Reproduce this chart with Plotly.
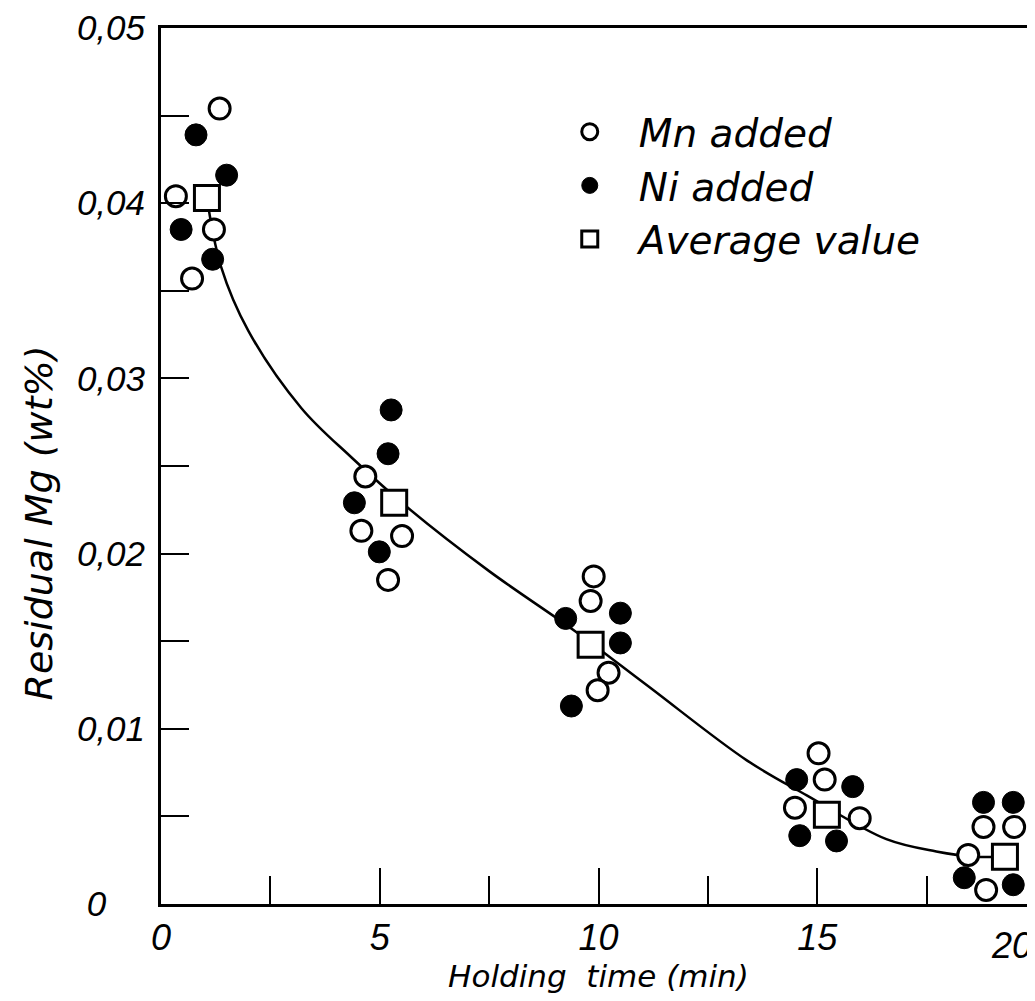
import plotly.graph_objects as go

# ---- data ----
mn_x = [1.34, 0.34, 1.21, 0.71,
        4.67, 4.58, 5.51, 5.19,
        9.89, 9.82, 10.23, 9.98,
        15.03, 15.17, 14.49, 15.97,
        18.80, 19.50, 18.45, 18.86]
mn_y = [0.0454, 0.0404, 0.0385, 0.0357,
        0.0244, 0.0213, 0.0210, 0.0185,
        0.0187, 0.0173, 0.0132, 0.0122,
        0.0086, 0.0071, 0.0055, 0.0049,
        0.0044, 0.0044, 0.0028, 0.0008]

ni_x = [0.80, 1.50, 0.46, 1.18,
        5.26, 5.19, 4.42, 4.99,
        9.25, 10.50, 10.50, 9.38,
        14.53, 15.81, 14.60, 15.44,
        18.80, 19.48, 18.36, 19.48]
ni_y = [0.0439, 0.0416, 0.0385, 0.0368,
        0.0282, 0.0257, 0.0229, 0.0201,
        0.0163, 0.0166, 0.0149, 0.0113,
        0.0071, 0.0067, 0.0039, 0.0036,
        0.0058, 0.0058, 0.0015, 0.0011]

avg_x = [1.05, 5.33, 9.82, 15.22, 19.29]
avg_y = [0.0403, 0.0229, 0.0148, 0.0051, 0.0027]

curve_x = [1.05, 1.37, 2.00, 3.21, 4.35, 5.65, 7.50, 9.45, 11.10,
           13.39, 14.76, 16.58, 17.72, 18.60, 19.29]
curve_y = [0.0403, 0.0364, 0.0327, 0.0283, 0.0255, 0.0226, 0.0190, 0.0156, 0.0125,
           0.0082, 0.0062, 0.0037, 0.0030, 0.0027, 0.0027]

NB = "\u00a0"
x_tickvals = [0, 5, 10, 15, 20]
x_ticktext = ["0", "5", "10", "15", ""]   # the "20" label is right-aligned at the frame below
x_last_text = "20"
y_tickvals = [0, 0.005, 0.01, 0.015, 0.02, 0.025, 0.03, 0.035, 0.04, 0.045, 0.05]
y_ticktext = ["0" + NB * 4, "", "0,01", "", "0,02", "", "0,03", "", "0,04", "", "0,05"]

x_title = "Holding  time (min)"
y_title = "Residual Mg (wt%)"

NUMFONT = "Liberation Sans, Arial, sans-serif"
TXTFONT = "DejaVu Sans, Liberation Sans, sans-serif"

fig = go.Figure()

fig.add_trace(go.Scatter(
    x=curve_x, y=curve_y, mode="lines", showlegend=False,
    line=dict(color="black", width=2.5, shape="spline", smoothing=1.0),
    hoverinfo="skip"))

fig.add_trace(go.Scatter(
    x=mn_x, y=mn_y, mode="markers", name="Mn added", legendgroup="a",
    marker=dict(symbol="circle", size=21, color="white",
                line=dict(color="black", width=3))))

fig.add_trace(go.Scatter(
    x=ni_x, y=ni_y, mode="markers", name="Ni added", legendgroup="b",
    marker=dict(symbol="circle", size=22, color="black",
                line=dict(color="black", width=1))))

fig.add_trace(go.Scatter(
    x=avg_x, y=avg_y, mode="markers", name="Average value", legendgroup="c",
    marker=dict(symbol="square", size=25, color="white",
                line=dict(color="black", width=3))))

fig.update_layout(
    width=1035, height=1001,
    margin=dict(l=153, r=7, t=20, b=105, autoexpand=False),
    paper_bgcolor="white", plot_bgcolor="white",
    font=dict(family=TXTFONT, color="black", size=30),
    legend=dict(x=0.434, y=0.918, xanchor="left", yanchor="top",
                bgcolor="rgba(0,0,0,0)", traceorder="grouped",
                tracegroupgap=0, itemwidth=88,
                font=dict(family=TXTFONT, size=39, style="italic")),
    xaxis=dict(
        range=[0, 20], showgrid=False, zeroline=False, automargin=False,
        showline=True, linecolor="black", linewidth=3, mirror=True,
        ticks="inside", ticklen=36, tickwidth=2, tickcolor="black",
        tickvals=x_tickvals, ticktext=x_ticktext,
        tickfont=dict(family=NUMFONT, size=36, style="italic"),
        ticklabelstandoff=0, ticklabeloverflow="allow",
        minor=dict(tickvals=[2.5, 7.5, 12.5, 17.5], ticks="inside",
                   ticklen=28, tickwidth=2, tickcolor="black"),
        title=dict(text=x_title, standoff=6,
                   font=dict(family=TXTFONT, size=31, style="italic")),
    ),
    yaxis=dict(
        range=[0, 0.05], showgrid=False, zeroline=False, automargin=False,
        showline=True, linecolor="black", linewidth=3, mirror=True,
        ticks="inside", ticklen=28, tickwidth=2, tickcolor="black",
        tickvals=y_tickvals, ticktext=y_ticktext,
        tickfont=dict(family=NUMFONT, size=35, style="italic"),
        ticklabelstandoff=6, ticklabeloverflow="allow",
    ),
    annotations=[
        dict(text=y_title, textangle=-90, showarrow=False,
             xref="paper", yref="paper", x=-0.14, y=(896 - 515) / 876,
             xanchor="center", yanchor="middle",
             font=dict(family=TXTFONT, size=38, style="italic")),
        dict(text=x_last_text, showarrow=False,
             xref="paper", yref="paper", x=1.0, y=0,
             xanchor="right", yanchor="middle", xshift=-2, yshift=-41,
             font=dict(family=NUMFONT, size=36, style="italic")),
    ],
)

fig.write_html("out.html")
